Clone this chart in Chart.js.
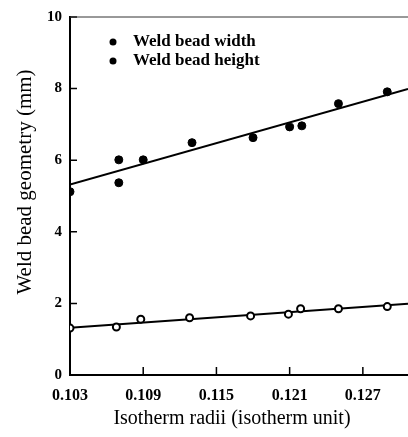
<!DOCTYPE html>
<html>
<head>
<meta charset="utf-8">
<script src="https://cdn.jsdelivr.net/npm/chart.js@4.4.0/dist/chart.umd.min.js"></script>
<style>
  html, body { margin: 0; padding: 0; background: #fff; overflow: hidden; }
  #wrap { width: 408px; height: 437px; position: relative; }
</style>
</head>
<body>
<div id="wrap"><canvas id="grafico"></canvas></div>
<script>
// datos
let widthX = [0.103, 0.107, 0.107, 0.109, 0.113, 0.118, 0.121, 0.122, 0.125, 0.129];
let widthVals = [5.12, 6.01, 5.37, 6.01, 6.49, 6.63, 6.93, 6.96, 7.58, 7.91];
let heightX = [0.103, 0.1068, 0.1088, 0.1128, 0.1178, 0.1209, 0.1219, 0.125, 0.129];
let heightVals = [1.31, 1.34, 1.56, 1.6, 1.65, 1.7, 1.85, 1.85, 1.91];
// rectas de ajuste (extremos)
let fitX = [0.103, 0.1307];
let widthFit = [5.32, 7.99];
let heightFit = [1.32, 1.99];
let xTicks = [0.103, 0.109, 0.115, 0.121, 0.127];
let yTicks = [0, 2, 4, 6, 8, 10];
let seriesLabels = ['Weld bead width', 'Weld bead height'];
let xTitle = 'Isotherm radii (isotherm unit)';
let yTitle = 'Weld bead geometry (mm)';

const toPts = function (xs, ys) {
  return xs.map((x, i) => ({ x: x, y: ys[i] }));
};

const serif = "'Liberation Serif', 'DejaVu Serif', serif";

// marcas hacia dentro, borde superior, titulos y leyenda
const extras = {
  id: 'extras',
  afterDraw(chart) {
    let { ctx, chartArea, scales } = chart;
    ctx.save();
    ctx.strokeStyle = '#000';
    ctx.lineWidth = 1.5;
    ctx.beginPath();
    for (let v of yTicks) {
      let y = scales.y.getPixelForValue(v);
      ctx.moveTo(chartArea.left, y);
      ctx.lineTo(chartArea.left + 7, y);
    }
    for (let v of xTicks.slice(1)) {
      let x = scales.x.getPixelForValue(v);
      ctx.moveTo(x, chartArea.bottom);
      ctx.lineTo(x, chartArea.bottom - 8);
    }
    ctx.stroke();
    ctx.lineWidth = 1;
    ctx.strokeStyle = '#333';
    ctx.beginPath();
    ctx.moveTo(chartArea.left, chartArea.top);
    ctx.lineTo(chartArea.right, chartArea.top);
    ctx.stroke();

    ctx.fillStyle = '#000';
    ctx.textAlign = 'center';
    ctx.textBaseline = 'middle';
    ctx.font = '20px ' + serif;
    ctx.fillText(xTitle, 232, 419);
    ctx.save();
    ctx.translate(25, 182);
    ctx.rotate(-Math.PI / 2);
    ctx.font = '21px ' + serif;
    ctx.fillText(yTitle, 0, 0);
    ctx.restore();

    ctx.textAlign = 'left';
    ctx.font = 'bold 17px ' + serif;
    seriesLabels.forEach(function (lbl, i) {
      let y = 42 + i * 19;
      ctx.beginPath();
      ctx.arc(113, y, 3.5, 0, Math.PI * 2);
      ctx.fill();
      ctx.fillText(lbl, 133, y);
    });
    ctx.restore();
  },
};

window['graficoGeom'] = new Chart(document.getElementById('grafico').getContext('2d'), {
  type: 'scatter',
  data: {
    datasets: [
      {
        label: seriesLabels[0],
        data: toPts(widthX, widthVals),
        backgroundColor: '#000',
        borderColor: '#000',
        pointRadius: 4,
      },
      {
        label: seriesLabels[1],
        data: toPts(heightX, heightVals),
        backgroundColor: '#fff',
        borderColor: '#000',
        borderWidth: 2,
        pointRadius: 3.5,
      },
      {
        label: 'fit width',
        type: 'line',
        data: toPts(fitX, widthFit),
        borderColor: '#000',
        borderWidth: 2,
        pointRadius: 0,
      },
      {
        label: 'fit height',
        type: 'line',
        data: toPts(fitX, heightFit),
        borderColor: '#000',
        borderWidth: 2,
        pointRadius: 0,
      },
    ],
  },
  options: {
    responsive: true,
    maintainAspectRatio: false,
    animation: false,
    layout: { autoPadding: false, padding: { top: 15, right: 0, left: 0, bottom: 0 } },
    plugins: { legend: { display: false }, tooltip: { enabled: false } },
    scales: {
      x: {
        type: 'linear',
        min: 0.103,
        max: 0.1307,
        afterBuildTicks: function (scale) {
          scale.ticks = xTicks.map((v) => ({ value: v }));
        },
        afterFit: function (scale) {
          scale.height = 62;
        },
        grid: { display: false, drawTicks: false },
        border: { display: true, color: '#000', width: 2 },
        ticks: {
          color: '#000',
          padding: 11,
          maxRotation: 0,
          font: { family: serif, size: 16, weight: 'bold' },
          callback: (v) => v.toFixed(3),
        },
      },
      y: {
        min: 0,
        max: 10,
        afterBuildTicks: function (scale) {
          scale.ticks = yTicks.map((v) => ({ value: v }));
        },
        afterFit: function (scale) {
          scale.width = 70;
        },
        grid: { display: false, drawTicks: false },
        border: { display: true, color: '#000', width: 2 },
        ticks: {
          color: '#000',
          padding: 8,
          font: { family: serif, size: 15, weight: 'bold' },
        },
      },
    },
  },
  plugins: [extras],
});
</script>
</body>
</html>
